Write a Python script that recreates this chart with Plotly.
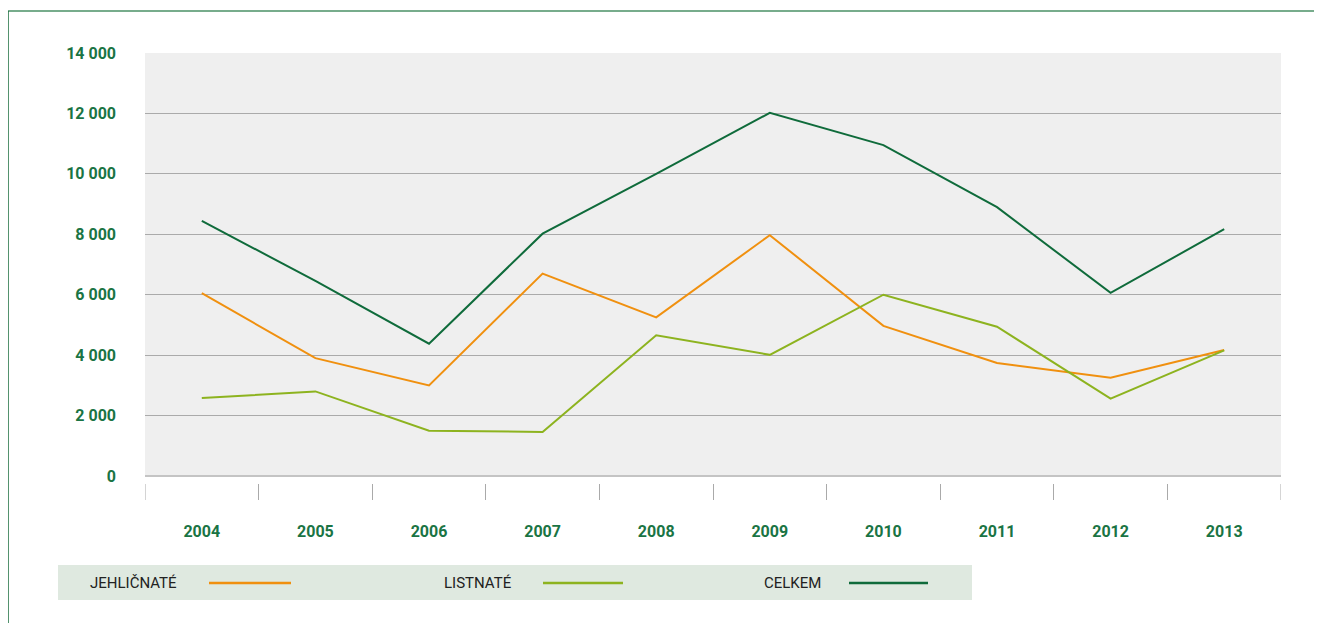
import plotly.graph_objects as go

years = ["2004", "2005", "2006", "2007", "2008", "2009", "2010", "2011", "2012", "2013"]
jehlicnate = [6050, 3900, 3000, 6700, 5250, 7970, 4970, 3740, 3250, 4170]
listnate = [2580, 2800, 1500, 1460, 4660, 4010, 6000, 4940, 2560, 4160]
celkem = [8440, 6460, 4380, 8020, 10000, 12020, 10950, 8900, 6060, 8170]
y_ticks = [0, 2000, 4000, 6000, 8000, 10000, 12000, 14000]
y_tick_labels = ["0", "2 000", "4 000", "6 000", "8 000", "10 000", "12 000", "14 000"]

series = [
    ("JEHLIČNATÉ", jehlicnate, "#f0900f"),
    ("LISTNATÉ", listnate, "#8db31f"),
    ("CELKEM", celkem, "#0f6b3b"),
]

OFF = 8  # page body margin
W, H = 1322 - OFF, 623 - OFF
L, R, T, B = 145 - OFF, 1281 - OFF, 53 - OFF, 500 - OFF
pw, ph = R - L, B - T

def px_x(p):
    return (p - OFF - L) / pw

def px_y(p):
    return (B - (p - OFF)) / ph

fig = go.Figure()
for name, vals, col in series:
    fig.add_trace(go.Scatter(x=years, y=vals, mode="lines", name=name,
                             line=dict(color=col, width=2), showlegend=False))

green_txt = "#1a7444"
shapes = []
shapes.append(dict(type="rect", xref="paper", yref="y", x0=0, x1=1, y0=0, y1=14000,
                   fillcolor="#efefef", line=dict(width=0), layer="below"))
shapes.append(dict(type="line", xref="paper", yref="paper", x0=px_x(8), x1=px_x(1340),
                   y0=px_y(11), y1=px_y(11), line=dict(color="#4a9066", width=1.5)))
shapes.append(dict(type="line", xref="paper", yref="paper", x0=px_x(8), x1=px_x(8),
                   y0=px_y(11), y1=px_y(640), line=dict(color="#1a6e3e", width=1.5)))
shapes.append(dict(type="rect", xref="paper", yref="paper", x0=px_x(58), x1=px_x(972),
                   y0=px_y(600), y1=px_y(565), fillcolor="#dfe9e0", line=dict(width=0)))
# edge category-boundary ticks (plotly omits those at the range ends)
for xb in (-0.5, len(years) - 0.5):
    shapes.append(dict(type="line", xref="x", yref="paper", x0=xb, x1=xb,
                       y0=0, y1=16 / ph, line=dict(color="#aaaaaa", width=1)))

annotations = []
legend_pos = [(88, 209, 291), (442, 543, 623), (762, 849, 928)]
for (name, vals, col), (tx, lx0, lx1) in zip(series, legend_pos):
    annotations.append(dict(text=name, xref="paper", yref="paper", x=px_x(tx), y=px_y(583),
                            xanchor="left", yanchor="middle", showarrow=False,
                            font=dict(family="Roboto", size=15, color="#222222")))
    shapes.append(dict(type="line", xref="paper", yref="paper", x0=px_x(lx0), x1=px_x(lx1),
                       y0=px_y(583), y1=px_y(583), line=dict(color=col, width=2.5)))

ymin = -(500 - 476) / (476 - 53) * 14000
fig.update_layout(
    width=W, height=H,
    margin=dict(l=L, r=W - R, t=T, b=H - B),
    paper_bgcolor="white", plot_bgcolor="white",
    shapes=shapes, annotations=annotations,
    xaxis=dict(type="category", categoryorder="array", categoryarray=years,
               range=[-0.5, 9.5], showgrid=False, zeroline=False, showline=False,
               ticks="inside", ticklen=16, tickwidth=1, tickcolor="#aaaaaa",
               tickson="boundaries", ticklabelstandoff=20,
               tickfont=dict(family="Roboto", size=16, color=green_txt, weight="bold")),
    yaxis=dict(range=[ymin, 14000], tickmode="array", tickvals=y_ticks, ticktext=y_tick_labels,
               showgrid=True, gridcolor="#aaaaaa", gridwidth=1,
               zeroline=True, zerolinecolor="#c4c4c4", zerolinewidth=2,
               showline=False, ticks="", ticklabelstandoff=28,
               tickfont=dict(family="Roboto", size=16, color=green_txt, weight="bold")),
)

fig.write_html("out.html")
